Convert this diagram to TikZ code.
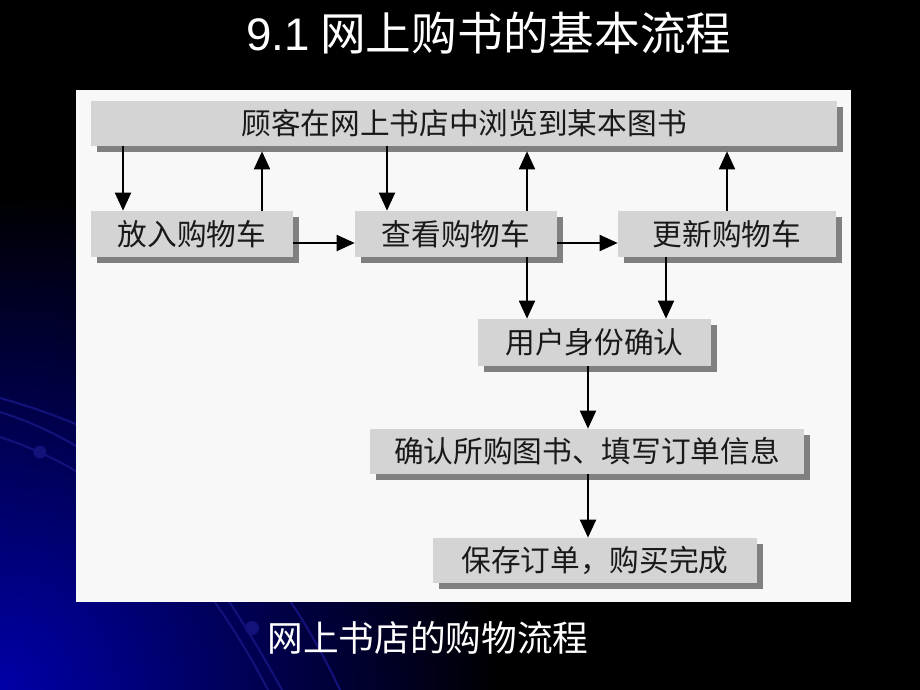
\documentclass[tikz,border=0pt]{standalone}
\usepackage{fontspec}
\setmainfont{Noto Sans CJK SC}
\newfontfamily\latinfont{Liberation Sans}
\usetikzlibrary{arrows.meta}
\usetikzlibrary{shadows}
\definecolor{panel}{HTML}{F8F8F8}
\definecolor{boxgray}{HTML}{D4D4D4}
\definecolor{shadowgray}{HTML}{808080}
\definecolor{swirlblue}{HTML}{12127A}
\definecolor{cornerblue}{HTML}{0000A8}
\tikzset{basic/.style={fill=boxgray,inner sep=0pt,text=black!90,font=\fontsize{16.9}{18}\selectfont}}
\tikzset{stepbox/.style={basic,minimum height=0.92cm,drop shadow={shadow xshift=0.12cm,shadow yshift=-0.12cm,fill=shadowgray,opacity=1}}}
\tikzset{flow/.style={draw,line width=1.1pt,->}}
\tikzset{swirl/.style={draw=swirlblue,line width=1.2pt}}

\begin{document}
\begin{tikzpicture}[x=0.02cm,y=-0.02cm,>={Triangle[length=0.36cm,width=0.32cm]}]
        \useasboundingbox (0,0) rectangle (920,690);
        % background of the slide
        \fill[black] (0,0) rectangle (920,690);
        \begin{scope}
            \clip (0,0) rectangle (920,690);
            \shade[inner color=cornerblue,outer color=black] (0,690) circle (10cm);
            \path[swirl] (0,398) .. controls (150,440) and (260,520) .. (340,690);
            \path[swirl] (0,412) .. controls (120,450) and (200,540) .. (282,690);
            \path[swirl] (0,437) .. controls (100,470) and (190,540) .. (268,690);
            \fill[swirlblue] (40,452) circle (0.13cm);
            \fill[swirlblue] (252,628) circle (0.14cm);
        \end{scope}
        \fill[panel] (76,90) rectangle (851,602);
        % title and caption
        \node[text=white,font=\fontsize{26}{30}\selectfont] (title) at (489,33) {{\latinfont 9.1} 网上购书的基本流程};
        \node[text=white,font=\fontsize{20.3}{24}\selectfont] (caption) at (428,638) {网上书店的购物流程};
        % the steps
        \node[stepbox,minimum width=14.92cm,minimum height=0.9cm] (browse) at (464,123.5) {顾客在网上书店中浏览到某本图书};
        \node[stepbox,minimum width=4.04cm] (put) at (192,234) {放入购物车};
        \node[stepbox,minimum width=4.04cm] (view) at (456,234) {查看购物车};
        \node[stepbox,minimum width=4.36cm] (update) at (727,234) {更新购物车};
        \node[stepbox,minimum width=4.66cm,minimum height=0.94cm] (check) at (594.5,342.5) {用户身份确认};
        \node[stepbox,minimum width=8.68cm,minimum height=0.9cm] (order) at (587,451.5) {确认所购图书、填写订单信息};
        \node[stepbox,minimum width=6.48cm,minimum height=0.9cm] (save) at (595,560.5) {保存订单，购买完成};
        % columns and row of the connectors
        \coordinate (c1) at (123,0);
        \coordinate (c2) at (262,0);
        \coordinate (c3) at (387,0);
        \coordinate (c4) at (527,0);
        \coordinate (c5) at (727,0);
        \coordinate (c6) at (666,0);
        \coordinate (c7) at (588,0);
        \coordinate (r1) at (0,243);
        % connectors
        \path[flow] (browse.south -| c1) -- (put.north -| c1);
        \path[flow] (put.north -| c2) -- ([yshift=-0.1cm]browse.south -| c2);
        \path[flow] (browse.south -| c3) -- (view.north -| c3);
        \path[flow] (view.north -| c4) -- ([yshift=-0.1cm]browse.south -| c4);
        \path[flow] (update.north -| c5) -- ([yshift=-0.1cm]browse.south -| c5);
        \path[flow] (put.east |- r1) -- (view.west |- r1);
        \path[flow] (view.east |- r1) -- (update.west |- r1);
        \path[flow] (view.south -| c4) -- (check.north -| c4);
        \path[flow] (update.south -| c6) -- (check.north -| c6);
        \path[flow] (check.south -| c7) -- (order.north -| c7);
        \path[flow] (order.south -| c7) -- (save.north -| c7);
\end{tikzpicture}
\end{document}
